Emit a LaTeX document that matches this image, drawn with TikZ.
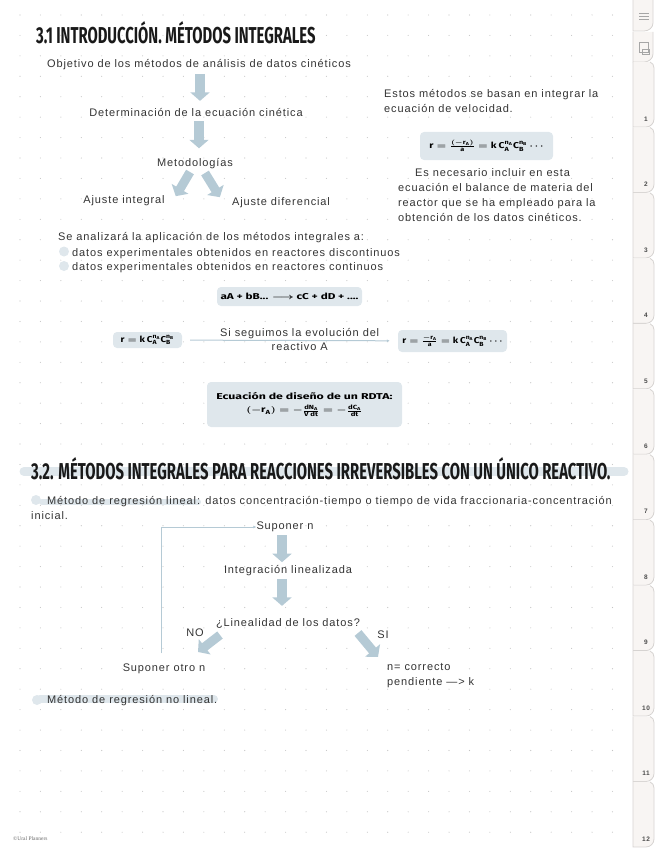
\documentclass[tikz,border=0pt]{standalone}
\usepackage{fontspec,amsmath,graphicx}
\usetikzlibrary{arrows.meta}
\setmainfont[LetterSpace=8]{Liberation Sans}
\setsansfont{Fira Sans}
\newfontfamily\titlefont{Fira Sans}
\newfontfamily\footfont{Liberation Serif}
\newcommand{\handwide}[2][1.45]{\scalebox{#1}[1]{#2}}
\definecolor{panelblue}{HTML}{DFE7EC}
\definecolor{arrowblue}{HTML}{B5CAD5}
\definecolor{dotgrey}{HTML}{C4C4C4}
\definecolor{tabfill}{HTML}{F8F5F3}
\definecolor{tabline}{HTML}{D6D3D1}
\tikzset{
	body/.style={font=\fontsize{11pt}{15pt}\selectfont,inner sep=0pt,text=black!80,align=left},
	headline/.style={font=\titlefont\bfseries,inner sep=0pt,anchor=west,text=black!90},
	panel/.style={fill=panelblue,rounded corners=4pt,inner sep=0pt,align=center},
	formula/.style={font=\sffamily\bfseries\boldmath\fontsize{8.5pt}{10pt}\selectfont},
	bigarrow/.style={draw=arrowblue,line width=9.5pt,-{Triangle[length=8.5pt,width=19pt]}},
	thinarrow/.style={draw=arrowblue,line width=1pt,-{Latex[length=3pt,width=3pt]}},
	mark line/.style={panelblue,line cap=round},
	bulletdot/.style={fill=panelblue},
	tabedge/.style={draw=tabline,fill=tabfill,line width=.8pt},
	tablabel/.style={font=\bfseries\fontsize{6.5pt}{6.5pt}\selectfont,inner sep=0pt,text=black!70}
}
\begin{document}
\begin{tikzpicture}[x=1pt,y=-1pt]
	\useasboundingbox (0,0) rectangle (655,848);

	\foreach \row in {0,...,40}
		\foreach \col in {0,...,29}
			\fill[dotgrey] (20+\col*20.43,15+\row*20.43) circle (.55);

	\draw[tabedge] (633,-2) -- (633,31) -- (644,31) to[out=0,in=-90] (653,23) -- (653,-2);
	\draw[tabedge] (633,32) -- (633,62) -- (644,62) to[out=0,in=-90] (653,54) -- (653,32);
	\foreach \tabno in {1,...,12}
		\draw[tabedge] (633,{62+(\tabno-1)*65.45}) -- (633,{127+(\tabno-1)*65.45}) -- (646,{127+(\tabno-1)*65.45}) to[out=0,in=-90] (654,{119+(\tabno-1)*65.45}) -- (654,{68+(\tabno-1)*65.45}) to[out=90,in=-20] (650,{62+(\tabno-1)*65.45});
	\foreach \tabno in {1,...,12}
		\node[tablabel] (tab\tabno) at (646,{119+(\tabno-1)*65.45}) {\tabno};
	\draw[gray!70,line width=.7pt] (639,13) -- +(10,0) (639,16) -- +(10,0) (639,19) -- +(10,0);
	\draw[gray!70,line width=.7pt] (639,42) rectangle +(9,10) (642,49) rectangle +(7,5);

	\draw[mark line,line width=9pt] (24,471.5) -- (624,471.5);
	\draw[mark line,line width=6pt] (42,502) -- (198,502);
	\draw[mark line,line width=8pt] (40,699) -- (214,699);
	\fill[bulletdot] (36,500) circle (5);
	\fill[bulletdot] (37,700) circle (5);
	\fill[bulletdot] (64,251.5) circle (5);
	\fill[bulletdot] (64,266) circle (5);

	\node[headline] (titulouno) at (36,33) {\scalebox{.645}[1]{\fontsize{23pt}{23pt}\selectfont 3.1 INTRODUCCIÓN. MÉTODOS INTEGRALES}};
	\node[headline] (titulodos) at (31,469) {\scalebox{.645}[1]{\fontsize{23pt}{23pt}\selectfont 3.2. MÉTODOS INTEGRALES PARA REACCIONES IRREVERSIBLES CON UN ÚNICO REACTIVO.}};

	\node[body] (objetivo) at (199,64.5) {Objetivo de los métodos de análisis de datos cinéticos};
	\node[body] (ecuacion) at (196,113) {Determinación de la ecuación cinética};
	\node[body] (metodos) at (195,163.5) {Metodologías};
	\node[body] (integral) at (124,200.5) {Ajuste integral};
	\node[body] (diferencial) at (281,202.5) {Ajuste diferencial};

	\node[body,anchor=north west] (basan) at (384,89) {Estos métodos se basan en integrar la\\ecuación de velocidad.};
	\node[body,anchor=west] (necesario) at (415,172.5) {Es necesario incluir en esta};
	\node[body,anchor=north west] (balance) at (398,183) {ecuación el balance de materia del\\reactor que se ha empleado para la\\obtención de los datos cinéticos.};

	\node[body,anchor=west] (analizara) at (58,237.5) {Se analizará la aplicación de los métodos integrales a:};
	\node[body,anchor=west] (discontinuos) at (72,253.5) {datos experimentales obtenidos en reactores discontinuos};
	\node[body,anchor=west] (continuos) at (72,267.5) {datos experimentales obtenidos en reactores continuos};

	\node[panel,formula,minimum width=133pt,minimum height=28pt] (velocidad) at (486.5,146) {\handwide[1.22]{$\mathsf{r=\frac{(-r_A)}{a}=k\,C_A^{n_A}C_B^{n_B}\cdots}$}};
	\node[panel,formula,minimum width=145pt,minimum height=19pt] (reaccion) at (289.5,296.5) {\handwide[1.38]{aA + bB... $\longrightarrow$ cC + dD + ....}};
	\node[panel,formula,minimum width=69pt,minimum height=16pt] (rinicial) at (147.5,340) {\handwide[1.15]{$\mathsf{r=k\,C_A^{n_A}C_B^{n_B}}$}};
	\node[panel,formula,minimum width=109pt,minimum height=22pt] (rfinal) at (452.5,341) {\handwide[1.15]{$\mathsf{r=\frac{-r_A}{a}=k\,C_A^{n_A}C_B^{n_B}\cdots}$}};
	\node[panel,formula,minimum width=195pt,minimum height=45pt] (diseno) at (304.5,404.5) {\handwide{Ecuación de diseño de un RDTA:}\\[3pt]\handwide[1.3]{$\mathsf{(-r_A)=-\frac{dN_A}{V\,dt}=-\frac{dC_A}{dt}}$}};

	\draw[thinarrow,shorten <=8pt,shorten >=8pt] (rinicial) -- (rfinal) node[pos=.545,body,above=1pt,align=center] (siguiendo) {Si seguimos la evolución del} node[pos=.545,body,below=2pt,align=center] (reactivo) {reactivo A};

	\draw[bigarrow] ([xshift=1pt]objetivo.south) ++(0,4) -- ++(0,27);
	\draw[bigarrow] ([xshift=3pt]ecuacion.south) ++(0,4) -- ++(0,27);
	\draw[bigarrow,line width=9pt] (190,172) -- ([xshift=11pt,yshift=-1pt]integral.north east);
	\draw[bigarrow,line width=9pt] (205,173) -- ([xshift=-12pt]diferencial.north west);

	\node[body,anchor=north west] (lineal) at (31,496.5) {\hspace{16pt}Método de regresión lineal: datos concentración-tiempo o tiempo de vida fraccionaria-concentración\\inicial.};
	\node[body] (suponer) at (285,527) {Suponer n};
	\node[body] (integracion) at (288,570.5) {Integración linealizada};
	\node[body] (linealidad) at (288,623) {¿Linealidad de los datos?};
	\node[body] (no) at (195,633) {NO};
	\node[body] (si) at (383,634.5) {SI};
	\node[body] (otro) at (164,668.5) {Suponer otro n};
	\node[body,anchor=north west] (correcto) at (387,663) {n= correcto\\pendiente ---> k};
	\node[body,anchor=west] (nolineal) at (47,700.5) {Método de regresión no lineal.};

	\draw[thinarrow] ([xshift=-3pt]otro.north) ++(0,-10) |- (suponer.west);
	\draw[bigarrow] (suponer.south) ++(-3,3) -- ++(0,27);
	\draw[bigarrow] (integracion.south) ++(-6,3) -- ++(0,27);
	\draw[bigarrow,line width=9pt] (220,635) -- (198,652);
	\draw[bigarrow,line width=9pt] (358,633) -- (378,657);

	\node[inner sep=0pt,font=\footfont\fontsize{5.5pt}{6pt}\selectfont,text=black!60,anchor=west] (credito) at (13,839) {©Ural Planners};
\end{tikzpicture}
\end{document}
